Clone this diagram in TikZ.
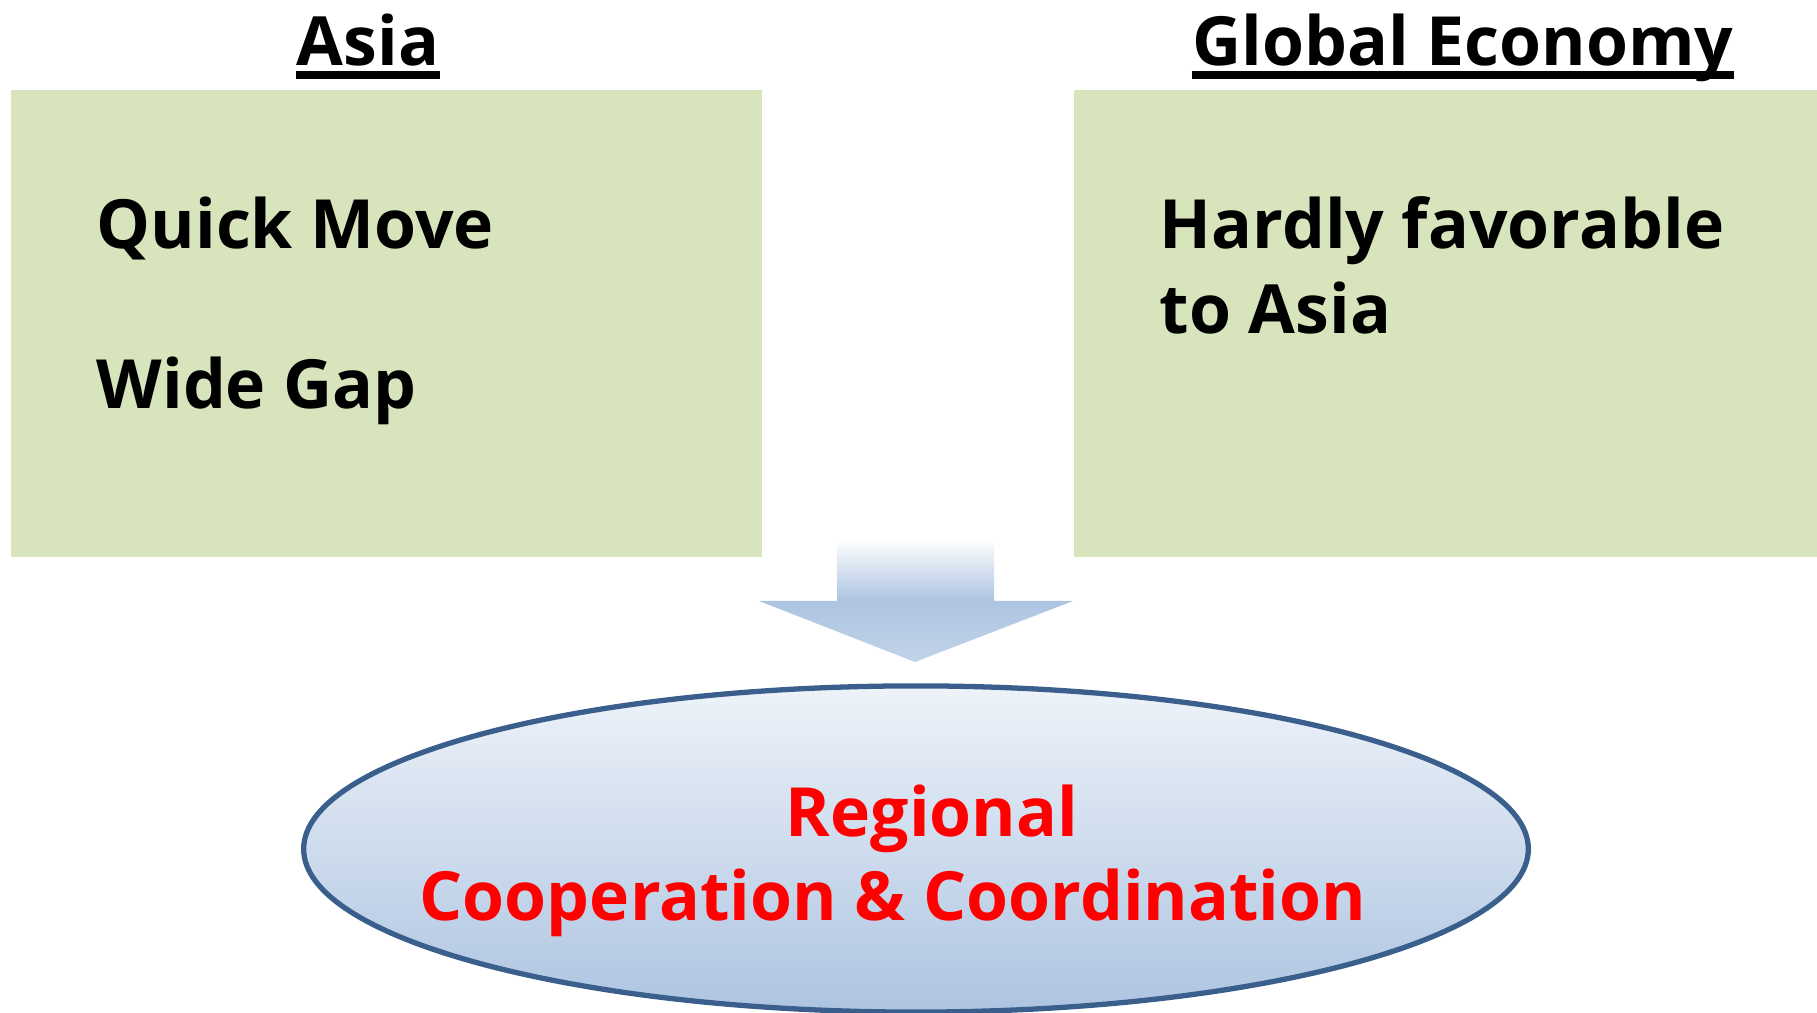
\documentclass[tikz,border=0pt]{standalone}
\usepackage{fontspec}
\setmainfont{Open Sans}
\usetikzlibrary{shapes.geometric}
\definecolor{boxgreen}{HTML}{D8E4BC}
\definecolor{rimblue}{HTML}{3A5F8C}
\definecolor{paleblue}{HTML}{EEF3F9}
\definecolor{softblue}{HTML}{ADC4E1}

\begin{document}
\begin{tikzpicture}[x=0.01cm,y=-0.01cm,
    word/.style={font={\fontsize{19.3}{24.2}\selectfont\bfseries},inner sep=0pt},
    goal/.style={word,text=red},
    panel/.style={fill=boxgreen,draw=none,anchor=north west,inner sep=0pt},
    target/.style={ellipse,draw=rimblue,line width=1.5pt,
        top color=paleblue,bottom color=softblue,
        minimum width=12.24cm,minimum height=3.26cm}]
\useasboundingbox (0,0) rectangle (1817,1013);

% panels
\node[panel,minimum width=7.51cm,minimum height=4.67cm] (asiabox) at (10,89) {};
\node[panel,minimum width=7.44cm,minimum height=4.67cm] (globalbox) at (1073,89) {};

% headings
\node[word,anchor=base] (asia) at (368,66) {Asia};
\node[word,anchor=base] (global) at (1463,66) {Global Economy};
\draw[line width=2.2pt] ([yshift=-0.09cm]asia.base west) -- ([yshift=-0.09cm]asia.base east);
\draw[line width=2.2pt] ([yshift=-0.09cm]global.base west) -- ([yshift=-0.09cm]global.base east);

% panel texts
\node[word,anchor=base west] (quick) at (96,249) {Quick Move};
\node[word,anchor=base west] (gap) at (96,409) {Wide Gap};
\node[word,anchor=base west] (hardly) at (1159,249) {Hardly favorable};
\node[word,anchor=base west] (toasia) at (1159,334) {to Asia};

% block arrow
\shade[top color=white,bottom color=softblue!75!white,middle color=softblue]
    (837,539) -- (994,539) -- (994,601) -- (1073,601) -- (915,662)
    -- (759,601) -- (837,601) -- cycle;

% ellipse
\node[target] (coop) at (916,849) {};
\node[goal,anchor=base] (regional) at (932,837) {Regional};
\node[goal,anchor=base] (coord) at (893,921) {Cooperation \& Coordination};
\end{tikzpicture}
\end{document}
